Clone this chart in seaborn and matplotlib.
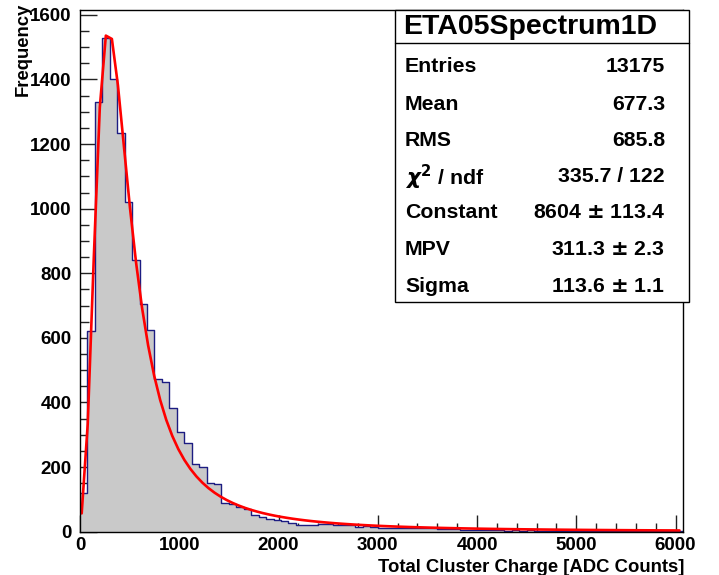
import numpy as np
import pandas as pd
import matplotlib
matplotlib.use("Agg")
import matplotlib.pyplot as plt
from matplotlib.patches import Rectangle
from matplotlib.lines import Line2D
import seaborn as sns

# ---------------- data ----------------
BIN_WIDTH = 75
X_RANGE = (0, 6075)
bin_counts = [
    119, 622, 1330, 1527, 1400, 1235, 1020, 841, 706, 624,
    472, 463, 384, 308, 274, 209, 201, 152, 148, 88,
    86, 78, 70, 52, 45, 38, 36, 32, 28, 20,
    22, 22, 25, 25, 22, 21, 20, 16, 17, 15,
    10, 11, 13, 12, 13, 12, 11, 12, 8, 7,
    7, 5, 5, 6, 4, 4, 5, 3, 4, 3,
    4, 3, 2, 3, 2, 3, 2, 2, 1, 2,
    2, 1, 2, 1, 1, 2, 1, 1, 1, 1,
    1,
]
FIT_CONSTANT = 8604.0
FIT_MPV = 311.3
FIT_SIGMA = 113.6
FIT_RANGE = (17, 6040)
FIT_NPX = 100

x_ticks = [0, 1000, 2000, 3000, 4000, 5000, 6000]
y_ticks = [0, 200, 400, 600, 800, 1000, 1200, 1400, 1600]

title_text = "ETA05Spectrum1D"
stat_names = ["Entries", "Mean", "RMS", r"$\chi^{2}$ / ndf", "Constant", "MPV", "Sigma"]
stat_values = ["13175", "677.3", "685.8", "335.7 / 122", "8604 $\\pm$ 113.4",
               "311.3 $\\pm$ 2.3", "113.6 $\\pm$ 1.1"]
x_title = "Total Cluster Charge [ADC Counts]"
y_title = "Frequency"

# ---------------- build table ----------------
edges = np.arange(X_RANGE[0], X_RANGE[1] + BIN_WIDTH, BIN_WIDTH)
centers = edges[:-1] + BIN_WIDTH / 2
df = pd.DataFrame({"charge": centers, "count": bin_counts})


def landau_density(lam):
    t = np.linspace(1e-12, 80, 400001)
    f = np.exp(-t * np.log(t) - lam * t) * np.sin(np.pi * t)
    return np.trapezoid(f, t) / np.pi


fit_x = np.linspace(FIT_RANGE[0], FIT_RANGE[1], FIT_NPX)
fit_y = np.array([FIT_CONSTANT * landau_density((x - FIT_MPV) / FIT_SIGMA) for x in fit_x])
fit_df = pd.DataFrame({"charge": fit_x, "fit": fit_y})

# ---------------- style ----------------
sns.set_theme(style="white")
plt.rcParams["font.family"] = ["Liberation Sans", "DejaVu Sans"]
plt.rcParams["font.weight"] = "bold"
plt.rcParams["mathtext.fontset"] = "dejavusans"
plt.rcParams["text.color"] = "black"
plt.rcParams["xtick.color"] = "black"
plt.rcParams["ytick.color"] = "black"

W, H = 719, 575
fig = plt.figure(figsize=(W / 100, H / 100), dpi=100)
fig.patch.set_facecolor("white")

L, R, T, B = 80, 683, 10, 531.7
ax = fig.add_axes([L / W, 1 - B / H, (R - L) / W, (B - T) / H])

sns.histplot(data=df, x="charge", weights="count", binwidth=BIN_WIDTH, binrange=X_RANGE,
             element="step", fill=True, color="#c9c9c9", alpha=1, linewidth=0, ax=ax)
sns.histplot(data=df, x="charge", weights="count", binwidth=BIN_WIDTH, binrange=X_RANGE,
             element="step", fill=False, color="#1c1c82", linewidth=1.0, ax=ax)
sns.lineplot(data=fit_df, x="charge", y="fit", color="#ff0000", linewidth=1.9,
             sort=False, estimator=None, ax=ax)

ax.set_xlim(*X_RANGE)
ax.set_ylim(0, 1615)
ax.set_xlabel("")
ax.set_ylabel("")
ax.set_xticks(x_ticks)
ax.set_yticks(y_ticks)
ax.set_xticks(np.arange(0, 6001, 200), minor=True)
ax.set_yticks(np.arange(0, 1601, 50), minor=True)
ax.tick_params(axis="both", which="major", direction="in", length=12, width=1,
               color="#222222", labelcolor="black", labelsize=13.5,
               top=False, right=False, bottom=True, left=True)
ax.tick_params(axis="both", which="minor", direction="in", length=6.5, width=1,
               color="#222222", top=False, right=False, bottom=True, left=True)
ax.tick_params(axis="x", which="major", pad=4)
ax.tick_params(axis="y", which="major", pad=6)
for lab in ax.get_xticklabels() + ax.get_yticklabels():
    lab.set_fontweight("bold")
for sp in ax.spines.values():
    sp.set_visible(True)
    sp.set_color("black")
    sp.set_linewidth(1.0)


def fx(px):
    return px / W


def fy(py):
    return 1 - py / H


# axis titles
fig.text(fx(684), fy(572), x_title, ha="right", va="baseline",
         fontsize=13.3, fontweight="bold", color="black")
fig.text(fx(23), fy(3), y_title, ha="center", va="top", rotation=90,
         fontsize=13.3, fontweight="bold", color="black")

# stats box
bx0, bx1, by0, by1 = 395, 689, 9.5, 301.5
fig.patches.append(Rectangle((fx(bx0), fy(by1)), fx(bx1) - fx(bx0), fy(by0) - fy(by1),
                             transform=fig.transFigure, facecolor="white",
                             edgecolor="black", linewidth=1.0, zorder=5))
fig.lines.append(Line2D([fx(bx0), fx(bx1)], [fy(42.7), fy(42.7)],
                        transform=fig.transFigure, color="black", linewidth=1.0, zorder=6))
fig.text(fx(530), fy(27), title_text, ha="center", va="center",
         fontsize=20.5, fontweight="bold", zorder=7, color="black")
row_y = [67, 104, 140, 177, 213, 250, 287]
for name, val, yy in zip(stat_names, stat_values, row_y):
    fig.text(fx(405), fy(yy), name, ha="left", va="center",
             fontsize=15.3, fontweight="bold", zorder=7, color="black")
    fig.text(fx(665), fy(yy), val, ha="right", va="center",
             fontsize=15.3, fontweight="bold", zorder=7, color="black")

fig.savefig("out.png", dpi=100, facecolor="white")
